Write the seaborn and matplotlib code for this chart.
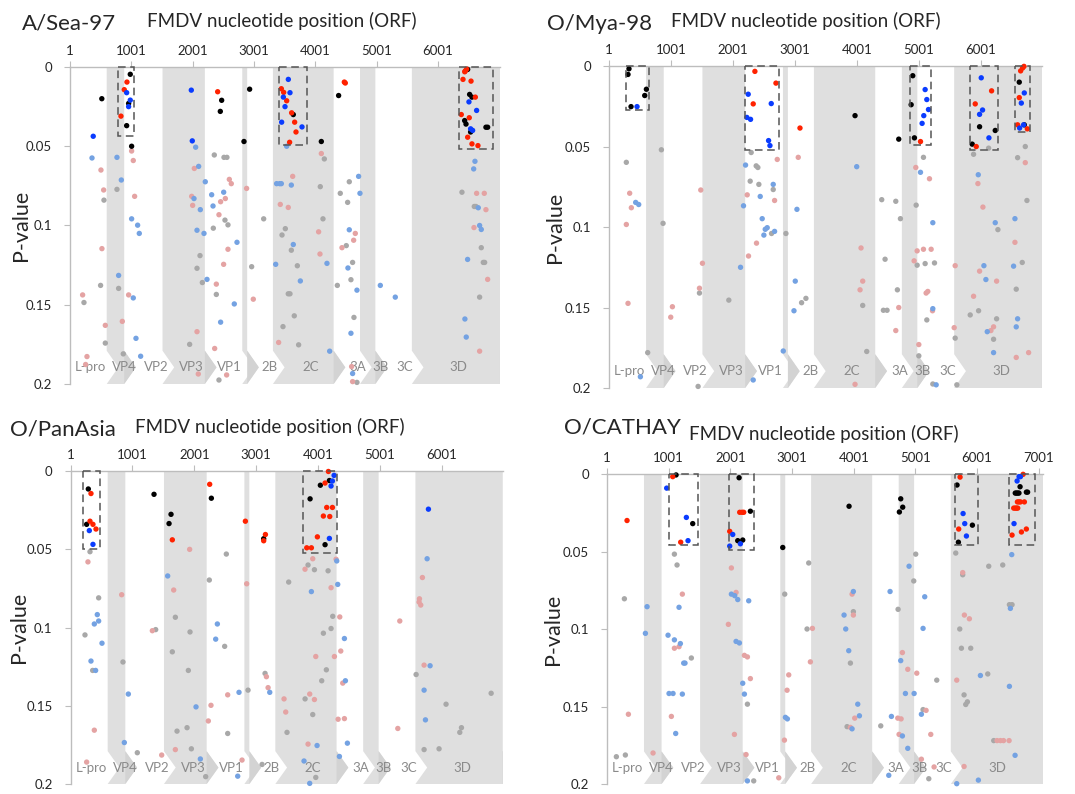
import numpy as np
import pandas as pd
import matplotlib.pyplot as plt
import seaborn as sns
from matplotlib.patches import Polygon, Rectangle

# gene layout of the FMDV ORF (start positions), shaded = grey band
gene_start = [1, 600, 885, 1510, 2200, 2810, 2890, 3310, 4300, 4730, 4980, 5575]
gene_shaded = [False, True, False, True, False, True, False, True, False, True, False, True]
gene_names = ["L-pro", "VP4", "VP2", "VP3", "VP1", "2B", "2C", "3A", "3B", "3C", "3D"]
gene_label_x = [330, 880, 1400, 1980, 2600, 3250, 3920, 4690, 5060, 5465, 6330]

# ---------------- A/Sea-97 ----------------
sea_black = [(520, .020), (984, .0046), (957, .023), (925, .037), (1006, .050), (2474, .021), (2452, .028),
             (2930, .014), (2838, .047), (3642, .030), (4099, .047), (4381, .018), (6485, .0015), (6517, .0173),
             (6555, .019), (6436, .0338), (6458, .036), (6533, .041), (6783, .038), (6811, .038)]
sea_red = [(930, .0095), (886, .0143), (832, .031), (2409, .0156), (3447, .0137), (3485, .016), (3534, .0213),
           (3615, .0289), (3664, .0348), (3686, .041), (3582, .0475), (4474, .0095), (4490, .0101), (6446, .0025),
           (6468, .0013), (6437, .003), (6409, .0078), (6540, .0089), (6610, .019), (6381, .030), (6511, .032),
           (6485, .0443), (6555, .0485), (6653, .0496)]
sea_blue = [(380, .0437), (925, .0162), (984, .0209), (957, .025), (1979, .0146), (1995, .0466), (3561, .0078),
            (3588, .0162), (3480, .019), (3507, .025), (3452, .0348), (3784, .0378), (6506, .022), (6631, .0274),
            (6533, .039), (6566, .040)]
sea_gray = [(767, .0772), (555, .084), (2354, .0555), (2512, .057), (2560, .057), (4082, .0755), (4148, .058),
            (4408, .0797), (4555, .0724), (6392, .079), (500, .1378), (794, .1397), (229, .1486), (577, .1742),
            (870, .181), (2121, .119), (2072, .127), (2159, .136), (1952, .175), (2338, .1017), (2528, .0966),
            (2577, .0996), (2387, .1435), (2430, .1975), (2963, .126), (3159, .0958), (3512, .102), (3458, .106),
            (3610, .1156), (3708, .1254), (3560, .1431), (3588, .1431), (3658, .157), (3474, .1638), (3729, .1753),
            (4126, .0958), (4360, .1378), (4528, .0854), (4506, .1127), (4609, .1233), (4582, .1342), (4631, .158),
            (4680, .199), (6593, .088), (6620, .088), (6707, .114), (6740, .1233), (6762, .1233), (6680, .1452)]
sea_pink = [(506, .065), (1006, .053), (1033, .059), (550, .0776), (1055, .0816), (2028, .064), (1985, .0816),
            (2599, .0709), (2631, .0736), (2534, .083), (2881, .0766), (3632, .069), (4099, .0546), (6631, .0797),
            (6756, .0797), (522, .1146), (207, .1438), (957, .1438), (854, .1605), (577, .163), (278, .1827),
            (256, .1877), (2001, .0873), (2072, .167), (2093, .1937), (2457, .085), (2430, .0932), (2577, .115),
            (2506, .1245), (2387, .137), (2360, .1776), (2555, .1943), (2990, .1465), (3430, .0867), (3560, .0886),
            (3403, .1738), (4055, .104), (4077, .118), (4653, .105), (4626, .1093), (4436, .114), (4593, .189),
            (4609, .1985), (6783, .090), (6588, .1013), (6811, .134), (6680, .1793)]
sea_lblue = [(360, .0574), (767, .057), (838, .0713), (2050, .0506), (2099, .0627), (2207, .0724), (2311, .0806),
             (2023, .083), (2507, .079), (3534, .050), (3370, .0736), (3420, .0736), (3447, .0736), (3610, .0745),
             (4707, .069), (4729, .0797), (6604, .0595), (6583, .0643), (1006, .0958), (1104, .0998), (1131, .105),
             (794, .1315), (1033, .1457), (1077, .1712), (1153, .1825), (2126, .090), (2072, .103), (2186, .105),
             (2235, .134), (2333, .0877), (2724, .1106), (2680, .1495), (2457, .161), (3642, .112), (3355, .1245),
             (3757, .135), (4191, .1239), (4235, .1793), (4555, .1027), (4533, .1268), (4680, .1408), (4582, .168),
             (4609, .1934), (5061, .1378), (5305, .1452), (6658, .0888), (6680, .100), (6707, .1025), (6484, .1214),
             (6440, .159), (6462, .1704)]
sea_boxes = [(778, 1050, 0, .0437), (3403, 3860, 0, .049), (6338, 6893, 0, .052)]

# ---------------- O/Mya-98 ----------------
mya_black = [(324, .0017), (308, .0052), (605, .0144), (578, .0183), (357, .0252), (3974, .0308), (4680, .0454),
             (4906, .006), (4880, .024), (4933, .0446), (5985, .0377), (6238, .040), (5866, .0485), (6626, .010),
             (6707, .0365)]
mya_red = [(2357, .0033), (2697, .0106), (2330, .0235), (3085, .0385), (5031, .0469), (6179, .0154), (5915, .0235),
           (5931, .050), (6702, .0002), (6680, .0012), (6648, .003), (6626, .0196), (6599, .0365), (6756, .039)]
mya_blue = [(454, .0252), (2249, .0175), (2621, .0233), (2227, .0319), (2287, .0331), (2578, .0463), (2600, .0494),
            (5106, .0146), (5133, .0208), (5160, .027), (5084, .0308), (5057, .0356), (6012, .0073), (6033, .0273),
            (5985, .030), (6136, .0446), (6707, .0167), (6659, .023), (6696, .0365), (6632, .0385)]
mya_gray = [(281, .0598), (847, .052), (2297, .0537), (2378, .062), (2405, .063), (2281, .0715), (2421, .0735),
            (2653, .0767), (4405, .083), (4632, .084), (5079, .0567), (5888, .0548), (6131, .051), (6599, .0569),
            (6723, .050), (6750, .0835), (626, .178), (874, .0977), (1462, .141), (1440, .199), (1936, .1454),
            (2626, .104), (2858, .104), (3111, .147), (3181, .1443), (4098, .1487), (4163, .1773), (4459, .120),
            (4658, .139), (4432, .1517), (4491, .1517), (4707, .0948), (4961, .0864), (4977, .1237), (5106, .1227),
            (5257, .1223), (5133, .1577), (5004, .180), (5230, .1975), (5591, .169), (5618, .198), (6281, .1016),
            (6674, .122), (6577, .1386), (5969, .152), (5834, .1546), (6260, .157), (6211, .1697)]
mya_pink = [(335, .079), (1483, .077), (2718, .058), (2233, .080), (3057, .0567), (4955, .063), (5176, .070),
            (5958, .073), (6723, .060), (362, .088), (281, .0984), (308, .1474), (1025, .1495), (998, .156),
            (1510, .1225), (1462, .138), (2254, .118), (2383, .110), (2675, .0835), (4071, .113), (4098, .1336),
            (4055, .139), (3974, .1977), (4680, .150), (4632, .1643), (4928, .121), (4977, .1148), (5079, .1138),
            (5203, .1138), (5122, .141), (5149, .140), (5225, .152), (5004, .173), (5575, .1625), (5591, .124),
            (6039, .0876), (6556, .1095), (5985, .1274), (6260, .1336), (5888, .143), (6211, .162), (6168, .1643),
            (6577, .181), (6777, .178)]
mya_lblue = [(2206, .0615), (2443, .081), (2653, .0735), (4001, .0625), (5031, .066), (5964, .0675), (432, .0847),
             (481, .086), (508, .193), (2173, .0868), (2125, .125), (2475, .0948), (2502, .105), (2524, .1014),
             (2556, .1004), (2675, .1027), (2815, .177), (2330, .195), (3036, .089), (3009, .1336), (2988, .152),
             (5230, .1507), (5230, .0973), (5284, .198), (6238, .0973), (6556, .0948), (6055, .124), (6087, .1326),
             (6534, .1243), (6599, .157), (6577, .162), (6109, .165), (6211, .178)]
mya_boxes = [(270, 647, 0, .027), (2195, 2750, 0, .0523), (4863, 5197, 0, .049), (5834, 6281, 0, .052),
             (6561, 6793, 0, .041)]

# ---------------- O/PanAsia ----------------
pan_black = [(287, .0114), (260, .034), (1349, .0148), (1624, .0276), (1592, .0335), (2276, .0173), (3122, .0432),
             (4038, .009), (4184, .006), (3872, .0177), (4114, .047)]
pan_red = [(330, .0143), (314, .032), (362, .034), (411, .037), (1645, .0439), (2249, .0084), (2826, .032),
           (3150, .0405), (3122, .0445), (4168, .0002), (4114, .0076), (4141, .0232), (4233, .0232), (4087, .0287),
           (4190, .029), (3990, .042), (3818, .049), (3893, .049)]
pan_blue = [(303, .038), (362, .0468), (4260, .0027), (4233, .0063), (4211, .0095), (4184, .043), (5785, .0243)]
pan_gray = [(314, .0515), (454, .081), (2243, .0696), (2518, .053), (3526, .0709), (3839, .060), (3942, .063),
            (4163, .0637), (233, .1047), (357, .1274), (847, .122), (1079, .180), (1376, .1013), (1694, .0934),
            (1645, .1155), (1931, .1028), (1904, .1274), (1721, .1662), (1883, .164), (1953, .1775), (2184, .1953),
            (2491, .112), (2540, .1677), (2869, .140), (3144, .1293), (3096, .1875), (3499, .167), (3791, .1456),
            (3915, .1556), (4087, .1036), (4060, .134), (4135, .127), (4211, .1006), (4238, .0928), (3964, .1958),
            (5586, .130), (5715, .178), (5957, .1775), (6070, .149), (6292, .167), (6319, .164), (6799, .142)]
pan_pink = [(281, .058), (826, .079), (1667, .076), (1925, .050), (2847, .072), (3790, .0627), (3915, .056),
            (4211, .0745), (4292, .0563), (5688, .068), (5640, .0816), (384, .1656), (260, .186), (1322, .102),
            (1473, .1815), (1694, .178), (2227, .1597), (2270, .1497), (2540, .143), (2772, .1847), (3166, .1314),
            (3193, .1384), (3451, .1456), (3478, .154), (3866, .1425), (3942, .146), (3964, .1185), (4265, .1185),
            (3839, .1745), (4352, .0932), (4368, .115), (4400, .1355), (4325, .1586), (4427, .1582), (5322, .0958),
            (5290, .1645), (5634, .0837), (5661, .0856), (5715, .124)]
pan_lblue = [(1570, .067), (3893, .077), (4319, .0724), (4303, .0574), (5764, .056), (432, .0917), (384, .0977),
             (454, .0958), (508, .110), (330, .1214), (405, .1274), (934, .1425), (869, .1735), (2028, .1507),
             (2098, .184), (2373, .0977), (2346, .1074), (2723, .1414), (2702, .195), (3220, .1414), (3985, .1754),
             (3774, .1853), (3866, .1996), (4427, .107), (4443, .134), (4475, .1739), (4346, .1824), (5812, .1244),
             (5715, .140), (5737, .159)]
pan_boxes = [(206, 475, 0, .0496), (3753, 4303, 0, .0525)]

# ---------------- O/CATHAY ----------------
cat_black = [(1120, .0006), (1390, .032), (2142, .0024), (2325, .024), (2120, .043), (2201, .0426), (2850, .0474),
             (3925, .0208), (4763, .016), (4795, .0214), (4741, .0245), (5676, .0071), (5925, .033), (5698, .044),
             (6698, .0082), (6620, .0123), (6640, .0123), (6660, .0123), (6680, .0123), (6800, .0117), (6820, .0117)]
cat_red = [(325, .030), (1066, .0017), (1195, .044), (2152, .0247), (2190, .0247), (2217, .0247), (1990, .037),
           (5725, .002), (5703, .0355), (6747, .0002), (6655, .018), (6680, .018), (6704, .018), (6768, .018),
           (6595, .022), (6620, .022), (6640, .022), (6660, .022), (6568, .0394), (6720, .0374), (6800, .0355)]
cat_blue = [(968, .0091), (1287, .028), (1314, .043), (2039, .039), (2163, .045), (1990, .0465), (5774, .0255),
            (5801, .032), (5828, .040), (6682, .0017), (6704, .0017), (6650, .0045), (6600, .032)]
cat_gray = [(1093, .0517), (1136, .0587), (282, .0805), (2882, .0775), (3271, .0574), (4974, .069), (5006, .0517),
            (5655, .051), (5768, .065), (6190, .0595), (6417, .0587), (152, .1824), (298, .1813), (1368, .1187),
            (2277, .1485), (2379, .198), (3244, .100), (3995, .0888), (3947, .122), (3893, .163), (4720, .0873),
            (4439, .1625), (5125, .152), (5347, .133), (5218, .1966), (5720, .100), (5747, .1124), (5898, .1124),
            (6174, .129), (5790, .1425), (5817, .1487), (5844, .147), (6525, .0843), (6568, .0843), (6271, .172)]
cat_pink = [(1222, .0775), (2017, .0606), (2093, .0764), (3974, .0775), (5768, .0636), (347, .155), (747, .180),
            (1093, .1124), (1168, .1114), (1044, .1564), (1968, .097), (2228, .117), (2277, .118), (2325, .132),
            (2066, .168), (2255, .181), (2785, .196), (2877, .1717), (2947, .1296), (2920, .1395), (3331, .0996),
            (3298, .1212), (3995, .091), (4017, .1575), (3947, .1635), (4715, .1575), (4769, .158), (4790, .1152),
            (4877, .126), (4736, .168), (5023, .1285), (5098, .184), (5174, .1525), (5250, .168), (5304, .189),
            (5795, .091), (5876, .0934), (5671, .133), (5790, .1887), (6325, .172), (6380, .172), (6430, .172),
            (6520, .172)]
cat_lblue = [(2017, .0775), (2071, .0785), (2120, .081), (2298, .0818), (3995, .0758), (4590, .0758), (4898, .0595),
             (5152, .0792), (6563, .052), (650, .0856), (623, .1028), (1168, .086), (990, .104), (1093, .107),
             (1190, .1094), (1244, .122), (1265, .122), (1006, .1416), (1071, .1416), (1222, .142), (1114, .1674),
             (2093, .108), (2147, .109), (2201, .135), (2228, .142), (2277, .198), (2893, .157), (2925, .158),
             (3844, .091), (3871, .100), (3920, .114), (4066, .1485), (4093, .156), (3974, .1644), (4612, .1564),
             (4569, .1944), (4763, .1204), (4839, .1416), (4980, .1416), (4790, .169), (4877, .177), (5125, .0996),
             (5098, .155), (6055, .130), (5671, .1998), (6022, .1975), (6541, .0867), (6525, .137), (6617, .1815)]
cat_boxes = [(1001, 1477, 0, .0457), (1974, 2385, 0, .049), (5644, 6017, 0, .0457), (6520, 6941, 0, .0457)]

palette = {"gray": "#a8a8a8", "pink": "#e4a3a3", "lblue": "#74a2e2",
           "black": "#000000", "red": "#ff2200", "blue": "#0a3cff"}

sns.set_style("white")
plt.rcParams["font.family"] = ["Lato", "DejaVu Sans"]

W, H = 1075, 794
fig = plt.figure(figsize=(W / 100, H / 100), dpi=100)

panels = [
    dict(name="A/Sea-97", rect=[0.0651, 0.5164, 0.4, 0.3992], xmax=7012, nt=6,
         name_xy=(22, 30), sub_xy=(282, 27), ylab_xy=(21, 225),
         pts=[sea_gray, sea_pink, sea_lblue, sea_black, sea_red, sea_blue], boxes=sea_boxes),
    dict(name="O/Mya-98", rect=[0.5665, 0.5113, 0.4028, 0.4055], xmax=6993, nt=6,
         name_xy=(547, 30), sub_xy=(806, 27), ylab_xy=(555, 227),
         pts=[mya_gray, mya_pink, mya_lblue, mya_black, mya_red, mya_blue], boxes=mya_boxes),
    dict(name="O/PanAsia", rect=[0.0657, 0.0126, 0.402, 0.394], xmax=6987, nt=6,
         name_xy=(10, 435), sub_xy=(270, 433), ylab_xy=(19, 627),
         pts=[pan_gray, pan_pink, pan_lblue, pan_black, pan_red, pan_blue], boxes=pan_boxes),
    dict(name="O/CATHAY", rect=[0.5647, 0.0126, 0.4056, 0.3904], xmax=7071, nt=7,
         name_xy=(564, 433), sub_xy=(824, 440), ylab_xy=(553, 629),
         pts=[cat_gray, cat_pink, cat_lblue, cat_black, cat_red, cat_blue], boxes=cat_boxes),
]
kinds = ["gray", "pink", "lblue", "black", "red", "blue"]

band = "#dfdfdf"
tipc = "#d3d3d3"
d, c0, cm = 190, 0.179, 0.1895

for pn in panels:
    ax = fig.add_axes(pn["rect"])
    xmax = pn["xmax"]

    # gene bands with chevron ends at the bottom
    ends = gene_start[1:] + [xmax]
    for x0, x1, sh in zip(gene_start, ends, gene_shaded):
        if not sh:
            continue
        poly = [(x0, 0), (x1, 0), (x1, c0), (x1 + d, cm), (x1, 0.2), (x0, 0.2), (x0 + d, cm), (x0, c0)]
        ax.add_patch(Polygon(poly, closed=True, fc=band, ec="none", zorder=0))
        ax.add_patch(Polygon([(x1, c0), (x1 + d, cm), (x1, 0.2)], closed=True, fc=tipc, ec="none", zorder=0))
    for nm, lx in zip(gene_names, gene_label_x):
        ax.text(lx, 0.1895, nm, ha="center", va="center", fontsize=9.5, color="#8a8a8a", zorder=1)

    rows = []
    for kind, pts in zip(kinds, pn["pts"]):
        for x, p in pts:
            rows.append((x, p, kind))
    df = pd.DataFrame(rows, columns=["pos", "pval", "kind"])
    sns.scatterplot(data=df, x="pos", y="pval", hue="kind", palette=palette, s=15, linewidth=0,
                    legend=False, ax=ax, zorder=3, clip_on=False)

    for x0, x1, y0, y1 in pn["boxes"]:
        ax.add_patch(Rectangle((x0, y0), x1 - x0, y1 - y0, fill=False, ec="#555555", lw=1.1,
                               ls=(0, (5, 3)), zorder=4, clip_on=False))

    ax.set_xlim(1, xmax)
    ax.set_ylim(0.2, 0)
    ax.xaxis.tick_top()
    ax.set_xticks([1 + 1000 * i for i in range(pn["nt"] + 1)])
    ax.set_yticks([0, 0.05, 0.1, 0.15, 0.2])
    ax.set_yticklabels(["0", "0.05", "0.1", "0.15", "0.2"])
    ax.set_xlabel("")
    ax.set_ylabel("")
    for s in ["right", "bottom"]:
        ax.spines[s].set_visible(False)
    for s in ["top", "left"]:
        ax.spines[s].set_color("#bdbdbd")
        ax.spines[s].set_linewidth(1.0)
    ax.tick_params(axis="x", top=True, bottom=False, length=4, color="#bdbdbd", labelsize=9.5, pad=3)
    ax.tick_params(axis="y", left=True, length=4, color="#bdbdbd", labelsize=9.5, pad=9)
    ax.set_facecolor("white")

    nx, ny = pn["name_xy"]
    fig.text(nx / W, 1 - ny / H, pn["name"], fontsize=16, ha="left", va="baseline")
    sx, sy = pn["sub_xy"]
    fig.text(sx / W, 1 - sy / H, "FMDV nucleotide position (ORF)", fontsize=13.5, ha="center", va="baseline")
    lx, ly = pn["ylab_xy"]
    fig.text(lx / W, 1 - ly / H, "P-value", fontsize=15.5, rotation=90, ha="center", va="center")

fig.savefig("out.png", dpi=100)
